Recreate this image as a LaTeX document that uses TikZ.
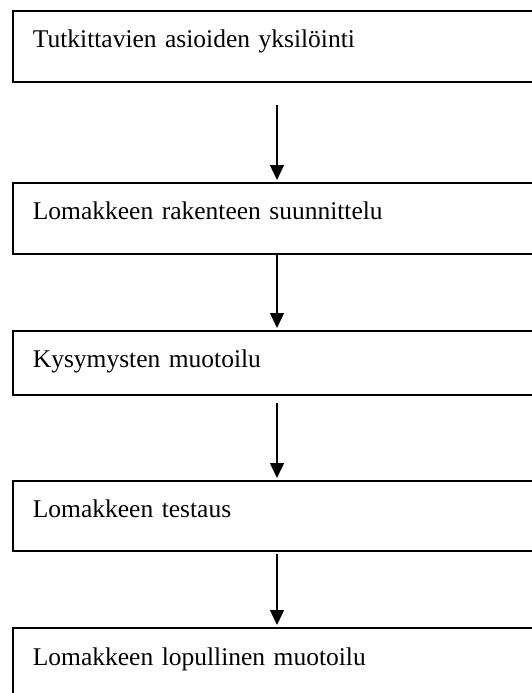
\documentclass[tikz,border=0pt]{standalone}
\usepackage{fontspec}
\setmainfont{Liberation Serif}
\usetikzlibrary{arrows.meta}

\tikzset{
  stage/.style={draw, line width=1.8pt, rectangle, anchor=north west,
    minimum width=540pt, inner xsep=20pt, inner ysep=0pt, align=left,
    text width=500pt, font=\fontsize{25.5}{30}\selectfont, text height=37pt},
  flow/.style={line width=1.4pt, -{Triangle[length=15pt,width=14pt]}, shorten >=2pt}
}

\begin{document}
\begin{tikzpicture}[x=1pt,y=-1pt]
\useasboundingbox (0,0) rectangle (532,693);
\clip (0,0) rectangle (532,693);

\node[stage, text depth=34pt] (b1) at (12,10) {Tutkittavien asioiden yksilöinti};
\node[stage, text depth=34pt] (b2) at (12,182) {Lomakkeen rakenteen suunnittelu};
\node[stage, text depth=27pt] (b3) at (12,330) {Kysymysten muotoilu};
\node[stage, text depth=33pt] (b4) at (12,480) {Lomakkeen testaus};
\node[stage, text depth=60pt, text height=38pt] (b5) at (12,627) {Lomakkeen lopullinen muotoilu};

\coordinate (a1) at (277,105);
\coordinate (a2) at (277,255);
\coordinate (a3) at (277,403);
\coordinate (a4) at (277,554);

\draw[flow] (a1) -- (a1 |- b2.north);
\draw[flow] (a2) -- (a2 |- b3.north);
\draw[flow] (a3) -- (a3 |- b4.north);
\draw[flow] (a4) -- (a4 |- b5.north);
\end{tikzpicture}
\end{document}
